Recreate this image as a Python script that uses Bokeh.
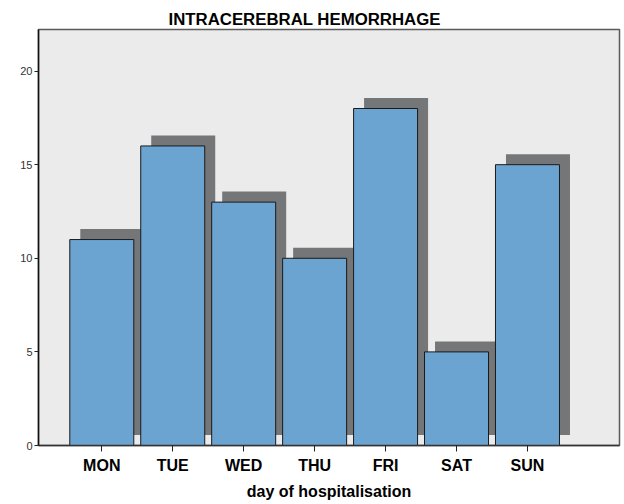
from bokeh.plotting import figure
from bokeh.models import ColumnDataSource, FixedTicker, Range1d
from bokeh.embed import file_html
from bokeh.resources import INLINE

days = ["MON", "TUE", "WED", "THU", "FRI", "SAT", "SUN"]
counts = [11, 16, 13, 10, 18, 5, 15]
y_ticks = [0, 5, 10, 15, 20]
title_text = "INTRACEREBRAL HEMORRHAGE"
x_label = "day of hospitalisation"

FONT = "Liberation Sans"
positions = list(range(1, len(days) + 1))

# geometry helpers (pixel -> data)
frame_w, frame_h = 581, 416
x_start, x_end = 0.108, 8.297
y_end = 22.22
px_x = frame_w / (x_end - x_start)
px_y = frame_h / y_end
bar_w = 64 / px_x
sh_dx = 10.5 / px_x
sh_dy = 10.5 / px_y

src = ColumnDataSource(dict(
    x=positions,
    top=counts,
    sx=[p + sh_dx for p in positions],
    stop=[c + sh_dy for c in counts],
    sbot=[sh_dy] * len(counts),
))

p = figure(
    frame_width=frame_w, frame_height=frame_h,
    x_range=Range1d(x_start, x_end), y_range=Range1d(0, y_end),
    output_backend="svg", toolbar_location=None,
    min_border_left=38, min_border_right=4, min_border_top=29, min_border_bottom=10,
    background_fill_color="#ebebeb", border_fill_color="white",
    outline_line_color="#5a5a5a", outline_line_width=1.5,
)

p.title.text = title_text
p.title.align = "left"
p.title.offset = 130
p.title.text_font = FONT
p.title.text_font_size = "16.8px"
p.title.text_font_style = "bold"
p.title.text_color = "black"
p.title.standoff = 1

p.vbar(x="sx", width=bar_w, top="stop", bottom="sbot", source=src,
       fill_color="#747678", line_color=None)
p.vbar(x="x", width=bar_w, top="top", bottom=0, source=src,
       fill_color="#6ca4d1", line_color="#1a1a1a", line_width=1)

p.xgrid.visible = False
p.ygrid.visible = False

p.xaxis.ticker = FixedTicker(ticks=positions)
p.xaxis.major_label_overrides = {pos: d for pos, d in zip(positions, days)}
p.xaxis.minor_tick_line_color = None
p.xaxis.major_tick_in = 0
p.xaxis.major_tick_out = 6
p.xaxis.major_tick_line_color = "#222222"
p.xaxis.axis_line_color = "#333333"
p.xaxis.axis_line_width = 1.5
p.xaxis.major_label_text_font = FONT
p.xaxis.major_label_text_font_size = "16px"
p.xaxis.major_label_text_font_style = "bold"
p.xaxis.major_label_text_color = "black"
p.xaxis.major_label_standoff = 5
p.xaxis.axis_label = x_label
p.xaxis.axis_label_text_font = FONT
p.xaxis.axis_label_text_font_size = "16px"
p.xaxis.axis_label_text_font_style = "bold"
p.xaxis.axis_label_text_color = "black"
p.xaxis.axis_label_standoff = 6

p.yaxis.ticker = FixedTicker(ticks=y_ticks)
p.yaxis.minor_tick_line_color = None
p.yaxis.major_tick_in = 0
p.yaxis.major_tick_out = 4
p.yaxis.major_tick_line_color = "#222222"
p.yaxis.axis_line_color = "#111111"
p.yaxis.axis_line_width = 1.5
p.yaxis.major_label_text_font = FONT
p.yaxis.major_label_text_font_size = "11px"
p.yaxis.major_label_text_color = "#333333"
p.yaxis.major_label_standoff = 2

open("out.html", "w").write(file_html(p, INLINE))
